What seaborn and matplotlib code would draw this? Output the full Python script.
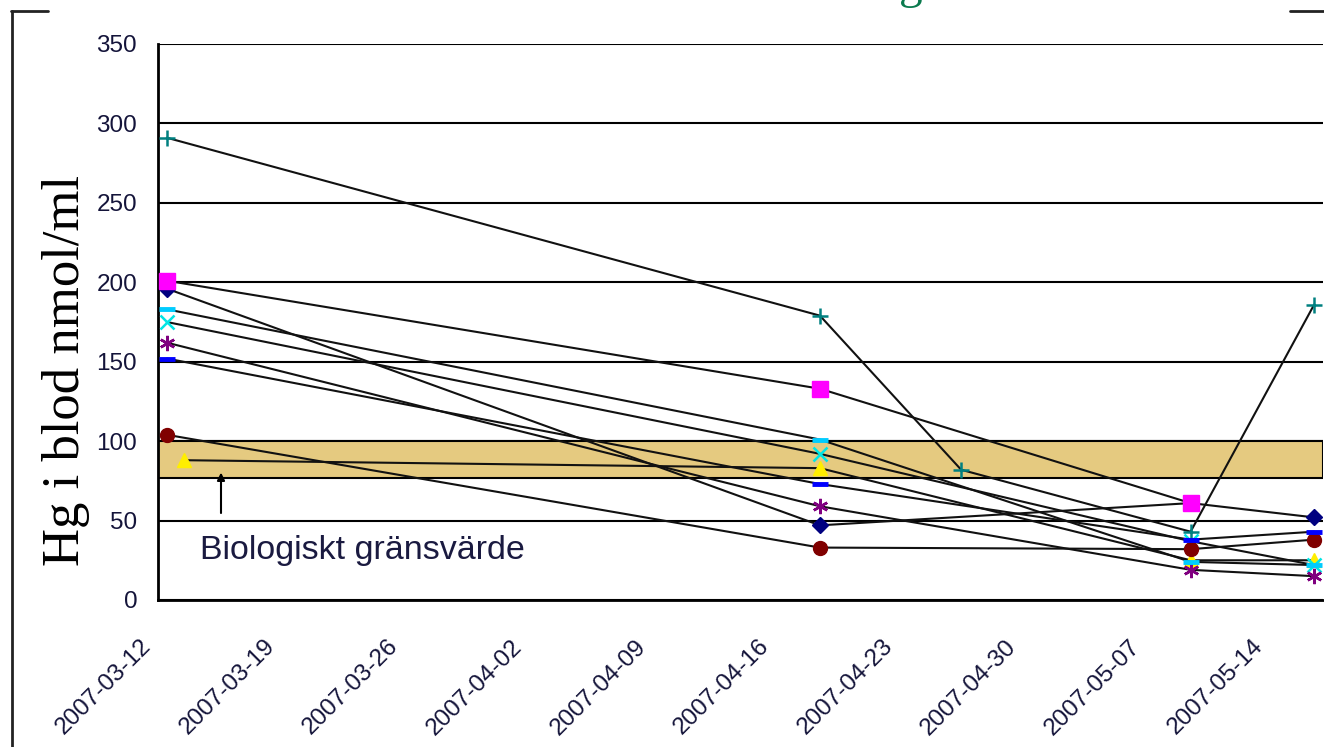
import numpy as np
import pandas as pd
import matplotlib
matplotlib.use("Agg")
import matplotlib.pyplot as plt
import matplotlib.dates as mdates
from matplotlib.transforms import ScaledTranslation
from matplotlib.lines import Line2D
import seaborn as sns

# ---------------- data ----------------
series_names = ["S1", "S2", "S3", "S4", "S5", "S6", "S7", "S8", "S9"]

s1_dates = ["2007-03-12", "2007-04-18", "2007-05-09", "2007-05-16"]
s1_vals = [196, 47, 61, 52]
s2_dates = ["2007-03-12", "2007-04-18", "2007-05-09"]
s2_vals = [201, 133, 61]
s3_dates = ["2007-03-13", "2007-04-18", "2007-05-09", "2007-05-16"]
s3_vals = [88, 83, 25, 25]
s4_dates = ["2007-03-12", "2007-04-18", "2007-05-09", "2007-05-16"]
s4_vals = [175, 92, 37, 22]
s5_dates = ["2007-03-12", "2007-04-18", "2007-05-09", "2007-05-16"]
s5_vals = [162, 59, 19, 15]
s6_dates = ["2007-03-12", "2007-04-18", "2007-05-09", "2007-05-16"]
s6_vals = [104, 33, 32, 38]
s7_dates = ["2007-03-12", "2007-04-18", "2007-04-26", "2007-05-09", "2007-05-16"]
s7_vals = [291, 179, 82, 43, 186]
s8_dates = ["2007-03-12", "2007-04-18", "2007-05-09", "2007-05-16"]
s8_vals = [152, 73, 38, 43]
s9_dates = ["2007-03-12", "2007-04-18", "2007-05-09", "2007-05-16"]
s9_vals = [183, 101, 24, 22]

limit_low, limit_high = 77, 100
y_ticks = [0, 50, 100, 150, 200, 250, 300, 350]
x_tick_labels = ["2007-03-12", "2007-03-19", "2007-03-26", "2007-04-02", "2007-04-09",
                 "2007-04-16", "2007-04-23", "2007-04-30", "2007-05-07", "2007-05-14"]
axis_start, axis_end = "2007-03-12", "2007-05-17"
ylabel = "Hg i blod nmol/ml"
annot_text = "Biologiskt gränsvärde"

all_dates = [s1_dates, s2_dates, s3_dates, s4_dates, s5_dates, s6_dates, s7_dates, s8_dates, s9_dates]
all_vals = [s1_vals, s2_vals, s3_vals, s4_vals, s5_vals, s6_vals, s7_vals, s8_vals, s9_vals]
frames = []
for name, d, v in zip(series_names, all_dates, all_vals):
    frames.append(pd.DataFrame({"series": name, "date": pd.to_datetime(d), "value": v}))
df = pd.concat(frames, ignore_index=True)

# ---------------- styles ----------------
styles = {
    "S1": dict(marker="D", ms=8, mfc="#000080", mec="#000080", mew=1),
    "S2": dict(marker="s", ms=12, mfc="#FF00FF", mec="#FF00FF", mew=1),
    "S3": dict(marker="^", ms=10, mfc="#FFEE00", mec="#FFEE00", mew=1),
    "S4": dict(marker="x", ms=10, mfc="#00E5E5", mec="#00E5E5", mew=1.8),
    "S5": dict(marker=(6, 2, 0), ms=11, mfc="#800080", mec="#800080", mew=1.8),
    "S6": dict(marker="o", ms=10, mfc="#800000", mec="#800000", mew=1),
    "S7": dict(marker="+", ms=12, mfc="#008080", mec="#008080", mew=1.8),
    "S8": dict(marker="_", ms=12, mfc="#0000FF", mec="#0000FF", mew=3.5),
    "S9": dict(marker="_", ms=12, mfc="#00CCFF", mec="#00CCFF", mew=3.5),
}

sns.set_style("white")
plt.rcParams["font.family"] = ["Liberation Sans", "DejaVu Sans"]

W, H = 1324, 747
fig = plt.figure(figsize=(W / 100, H / 100), dpi=100)
ax = fig.add_axes([158 / W, 1 - 600 / H, (1323 - 158) / W, (600 - 44) / H])

# reference band
ax.axhspan(limit_low, limit_high, facecolor="#E5CA80", edgecolor="black", lw=1.5, zorder=1)

for z, name in enumerate(series_names):
    sub = df[df["series"] == name]
    st = styles[name]
    sns.lineplot(data=sub, x="date", y="value", ax=ax, color="#111111", lw=1.5,
                 marker=st["marker"], markersize=st["ms"], markerfacecolor=st["mfc"],
                 markeredgecolor=st["mec"], markeredgewidth=st["mew"],
                 legend=False, zorder=3 + z, estimator=None, sort=False)

# axes, excel-like date axis (points in middle of days)
x0 = mdates.date2num(pd.Timestamp(axis_start)) - 0.5
x1 = mdates.date2num(pd.Timestamp(axis_end)) - 0.5
ax.set_xlim(x0, x1)
ax.set_ylim(0, 350)
tick_pos = [mdates.date2num(pd.Timestamp(t)) - 0.5 for t in x_tick_labels]
ax.set_xticks(tick_pos)
ax.set_xticklabels(x_tick_labels, rotation=45, ha="right", va="center",
                   rotation_mode="anchor", fontsize=17.5, color="#14143a")
ax.set_yticks(y_ticks)
ax.set_yticklabels([str(v) for v in y_ticks], fontsize=17.5, color="#14143a")
ax.tick_params(axis="x", direction="out", length=7, width=1.5, pad=24, colors="black",
               labelcolor="#14143a")
ax.tick_params(axis="y", direction="out", length=9, width=1.5, pad=6, colors="black",
               labelcolor="#14143a")
for lbl in ax.get_xticklabels():
    lbl.set_transform(lbl.get_transform() + ScaledTranslation(-10 / 100, 0, fig.dpi_scale_trans))

ax.grid(axis="y", color="black", lw=1.5, zorder=0)
ax.grid(axis="x", visible=False)
ax.set_axisbelow(True)
for s in ["top", "right"]:
    ax.spines[s].set_visible(False)
for s in ["left", "bottom"]:
    ax.spines[s].set_color("black")
    ax.spines[s].set_linewidth(2)
ax.set_xlabel("")
ax.set_ylabel("")

# y label
fig.text(66 / W, 1 - 370 / H, ylabel, rotation=90, ha="center", va="center",
         fontsize=38, family=["Liberation Serif", "DejaVu Serif"], color="black")

# annotation
ax.annotate("", xy=((221 - 158) / 1165, 82), xycoords=("axes fraction", "data"),
            xytext=((221 - 158) / 1165, 53), textcoords=("axes fraction", "data"),
            arrowprops=dict(arrowstyle="-|>", color="black", lw=1.5, mutation_scale=11),
            zorder=20)
ax.text((200 - 158) / 1165, 31, annot_text, transform=ax.get_yaxis_transform(),
        fontsize=24.5, color="#1a1a40", ha="left", va="center", zorder=20)

# chart area border and clipped title fragment
fig.add_artist(Line2D([12 / W, 12 / W], [0, 1 - 11 / H], transform=fig.transFigure,
                      color="#222222", lw=2))
fig.add_artist(Line2D([11 / W, 48 / W], [1 - 11 / H, 1 - 11 / H], transform=fig.transFigure,
                      color="#222222", lw=2))
fig.add_artist(Line2D([1290 / W, 1], [1 - 11 / H, 1 - 11 / H], transform=fig.transFigure,
                      color="#222222", lw=2))
fig.text(911 / W, 1 - 8 / H, "g", ha="center", va="bottom", fontsize=34,
         family=["Liberation Serif", "DejaVu Serif"], color="#0b7a4e")

fig.savefig("out.png", dpi=100)
